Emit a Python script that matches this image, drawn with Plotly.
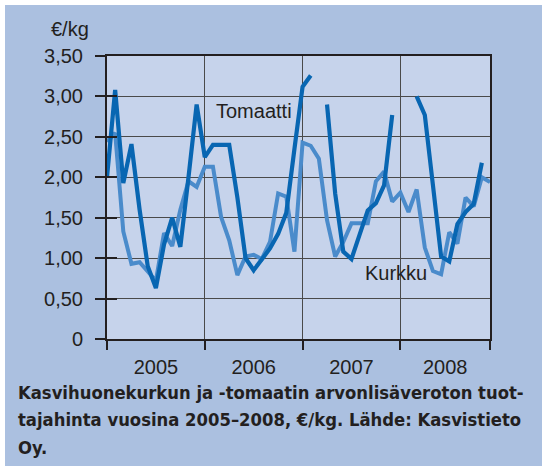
import plotly.graph_objects as go

# ---- data (monthly, Jan 2005 .. Dec 2008) ----
months = list(range(48))
tomaatti = [2.00, 3.08, 1.93, 2.41, 1.60, 0.90, 0.63, 1.17, 1.50, 1.14, 2.00, 2.90,
            2.25, 2.40, 2.40, 2.40, 1.75, 1.00, 0.85, 0.98, 1.12, 1.30, 1.56, 2.35,
            3.12, 3.26, None, 2.90, 1.80, 1.08, 0.99, 1.29, 1.59, 1.68, 1.90, 2.77,
            None, None, 3.00, 2.77, 1.90, 1.02, 0.96, 1.42, 1.57, 1.67, 2.18, None]
kurkku = [2.44, 2.55, 1.33, 0.93, 0.95, 0.83, 0.72, 1.31, 1.15, 1.60, 1.95, 1.88,
          2.13, 2.13, 1.51, 1.22, 0.79, 1.02, 1.04, 0.99, 1.20, 1.80, 1.76, 1.08,
          2.43, 2.39, 2.23, 1.47, 1.02, 1.20, 1.43, 1.43, 1.43, 1.95, 2.07, 1.70,
          1.81, 1.57, 1.85, 1.13, 0.84, 0.80, 1.32, 1.18, 1.75, 1.64, 2.00, 1.94]
year_labels = ["2005", "2006", "2007", "2008"]
year_bounds = [0, 12, 24, 36, 47]
year_mids = [6, 18, 30, 41.5]
y_ticks = [0, 0.5, 1.0, 1.5, 2.0, 2.5, 3.0, 3.5]
y_ticktext = ["0", "0,50", "1,00", "1,50", "2,00", "2,50", "3,00", "3,50"]
caption_lines = ["Kasvihuonekurkun ja -tomaatin arvonlisäveroton tuot-",
                 "tajahinta vuosina 2005–2008, €/kg. Lähde: Kasvistieto",
                 "Oy."]

PAPER = "#abc0e0"
PLOT = "#c6d3eb"
DARK = "#0866b2"
LIGHT = "#4a8bcb"
INK = "#231f20"
GRID = "#4a4a4a"
FONT = "Liberation Sans"
CAPFONT = "DejaVu Sans Condensed, Liberation Sans"

fig = go.Figure()
fig.add_trace(go.Scatter(x=months, y=kurkku, mode="lines", name="Kurkku",
                         line=dict(color=LIGHT, width=4), connectgaps=False,
                         showlegend=False, hoverinfo="skip"))
fig.add_trace(go.Scatter(x=months, y=tomaatti, mode="lines", name="Tomaatti",
                         line=dict(color=DARK, width=4.2), connectgaps=False,
                         showlegend=False, hoverinfo="skip"))
# invisible carrier for overlay axes
fig.add_trace(go.Scatter(x=[year_bounds[0], year_bounds[-1]], y=[y_ticks[0], y_ticks[0]],
                         xaxis="x2", yaxis="y2", mode="lines", opacity=0,
                         showlegend=False, hoverinfo="skip"))

W, H = 542, 466
L, R, T, B = 107, 52, 56, 127
pw, ph = W - L - R, H - T - B

def px(xp):
    return (xp - L) / pw

def py(yp):
    return (H - B - yp) / ph

annotations = [
    dict(text="€/kg", xref="paper", yref="paper", x=px(91), y=py(29),
         xanchor="right", yanchor="middle", showarrow=False,
         font=dict(family=FONT, size=20, color=INK)),
    dict(text="Tomaatti", xref="x", yref="y", x=18, y=2.82,
         xanchor="center", yanchor="middle", showarrow=False,
         font=dict(family=FONT, size=20, color=INK)),
    dict(text="Kurkku", xref="x", yref="y", x=35.5, y=0.82,
         xanchor="center", yanchor="middle", showarrow=False,
         font=dict(family=FONT, size=20, color=INK)),
]
for line_text, ypix in zip(caption_lines, [392, 419, 447]):
    annotations.append(dict(text=line_text, xref="paper", yref="paper",
                            x=px(16), y=py(ypix), xanchor="left", yanchor="middle",
                            showarrow=False,
                            font=dict(family=CAPFONT, size=18.3, color=INK, weight="bold")))

fig.update_layout(
    width=W, height=H,
    margin=dict(l=L, r=R, t=T, b=B, pad=0),
    paper_bgcolor=PAPER, plot_bgcolor=PLOT,
    font=dict(family=FONT, size=20, color=INK),
    xaxis=dict(range=[year_bounds[0], year_bounds[-1]], tickvals=year_bounds,
               showticklabels=False, ticks="outside", ticklen=9, tickwidth=2,
               tickcolor=INK, showgrid=True, gridcolor=GRID, gridwidth=1.3,
               showline=True, linecolor=INK, linewidth=2, mirror=True,
               zeroline=False, fixedrange=True),
    yaxis=dict(range=[y_ticks[0], y_ticks[-1]], tickvals=y_ticks, ticktext=y_ticktext,
               ticks="outside", ticklen=10, tickwidth=2, tickcolor=INK,
               ticklabelstandoff=8,
               showgrid=True, gridcolor=GRID, gridwidth=1.3,
               showline=True, linecolor=INK, linewidth=2, mirror=True,
               zeroline=False, fixedrange=True,
               tickfont=dict(family=FONT, size=20, color=INK)),
    xaxis2=dict(overlaying="x", range=[year_bounds[0], year_bounds[-1]],
                tickvals=year_mids, ticktext=year_labels, ticks="outside",
                ticklen=10, tickcolor="rgba(0,0,0,0)", showgrid=False,
                showline=False, zeroline=False, side="bottom",
                tickfont=dict(family=FONT, size=20, color=INK), fixedrange=True),
    yaxis2=dict(overlaying="y", range=[y_ticks[0], y_ticks[-1]], tickvals=y_ticks,
                ticks="inside", ticklen=10, tickwidth=2, tickcolor=INK,
                showticklabels=False, showgrid=False, showline=False,
                zeroline=False, fixedrange=True),
    shapes=[
        dict(type="rect", xref="paper", yref="paper", x0=px(0), x1=px(W),
             y0=py(5), y1=py(0), fillcolor="white", line=dict(width=0), layer="above"),
        dict(type="rect", xref="paper", yref="paper", x0=px(0), x1=px(5),
             y0=py(H), y1=py(0), fillcolor="white", line=dict(width=0), layer="above"),
    ],
    annotations=annotations,
)

fig.write_html("out.html", config={"displayModeBar": False},
               post_script="document.body.style.margin='0px';document.body.style.overflow='hidden';")
